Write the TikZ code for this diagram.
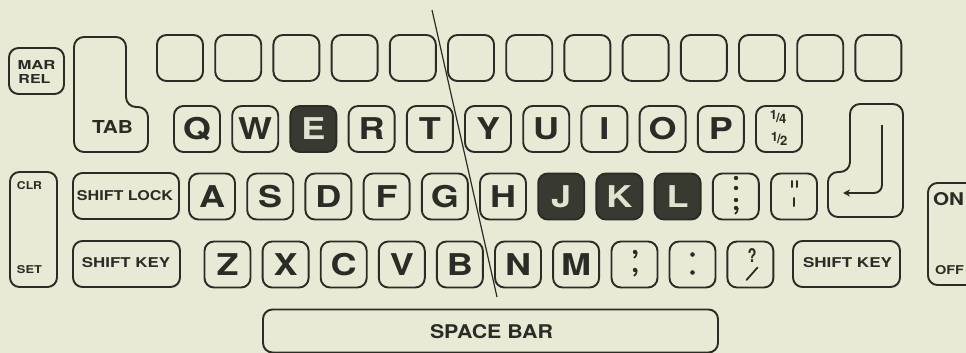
\documentclass[tikz,border=0pt]{standalone}
\usepackage{fontspec}
\usepackage{graphicx}
\setmainfont{TeX Gyre Heros}
\usetikzlibrary{arrows.meta}
\definecolor{bg}{HTML}{E8EAD5}
\definecolor{ink}{HTML}{2B2C26}
\definecolor{darkkey}{HTML}{383A31}
\definecolor{lighttext}{HTML}{E0E3D0}
\newcommand{\kl}[1]{\scalebox{1.2}[1]{#1}}
\newcommand{\fitlbl}[3]{\resizebox{#1pt}{#2pt}{#3}}
\begin{document}
\begin{tikzpicture}[x=1pt,y=-1pt,
  keybox/.style={draw=ink,line width=1.9pt,rounded corners=9.5pt,minimum width=46pt,minimum height=46pt,
    inner sep=0pt,text height=21.5pt,text depth=0pt,font=\fontsize{30}{30}\selectfont\bfseries,text=ink},
  darkbox/.style={keybox,fill=darkkey,text=lighttext},
  widebox/.style={draw=ink,line width=1.9pt,rounded corners=9.5pt,inner sep=0pt},
  lbl/.style={inner sep=0pt,text=ink,font=\bfseries},
  dotfill/.style={fill=ink},
  tickline/.style={draw=ink,line width=2pt,line cap=round}
]
\fill[bg] (0,0) rectangle (966,353);
\useasboundingbox (0,0) rectangle (966,353);
\clip (0,0) rectangle (966,353);

% top row of blank keys
\foreach \i in {0,...,12}{
  \node[keybox] (top\i) at ({180+58.2*\i},58) {};
}

% row 2
\node[keybox]  (kQ) at (197.0,129) {\kl{Q}};
\node[keybox]  (kW) at (255.2,129) {\kl{W}};
\node[darkbox] (kE) at (313.4,129) {\kl{E}};
\node[keybox]  (kR) at (371.6,129) {\kl{R}};
\node[keybox]  (kT) at (429.8,129) {\kl{T}};
\node[keybox]  (kY) at (488.0,129) {\kl{Y}};
\node[keybox]  (kU) at (546.2,129) {\kl{U}};
\node[keybox]  (kI) at (604.4,129) {\kl{I}};
\node[keybox]  (kO) at (662.6,129) {\kl{O}};
\node[keybox]  (kP) at (720.8,129) {\kl{P}};
\node[keybox]  (kfr) at (779.0,129) {};
\node[lbl,font=\fontsize{13}{13}\selectfont\bfseries] (fq) at (778,117) {\raisebox{2.5pt}{1}\kern-0.8pt/\kern-0.8pt\raisebox{-1.5pt}{4}};
\node[lbl,font=\fontsize{13}{13}\selectfont\bfseries] (fh) at (779,138.5) {\raisebox{2.5pt}{1}\kern-0.8pt/\kern-0.8pt\raisebox{-1.5pt}{2}};

% row 3
\node[keybox]  (kA) at (212.0,196.5) {\kl{A}};
\node[keybox]  (kS) at (270.2,196.5) {\kl{S}};
\node[keybox]  (kD) at (328.4,196.5) {\kl{D}};
\node[keybox]  (kF) at (386.6,196.5) {\kl{F}};
\node[keybox]  (kG) at (444.8,196.5) {\kl{G}};
\node[keybox]  (kH) at (503.0,196.5) {\kl{H}};
\node[darkbox] (kJ) at (561.2,196.5) {\kl{J}};
\node[darkbox] (kK) at (619.4,196.5) {\kl{K}};
\node[darkbox] (kL) at (677.6,196.5) {\kl{L}};
\node[keybox]  (ksc) at (735.8,196.5) {};
\node[keybox]  (kqt) at (794.0,196.5) {};
% colon over semicolon
\fill[dotfill] (736,178) circle (2.2);
\fill[dotfill] (736,188) circle (2.2);
\fill[dotfill] (736,200) circle (2.2);
\fill[dotfill] (736,208) circle (2.2);
\draw[ink,line width=1.7pt] (737.9,208) .. controls (737.9,211) and (736.5,213) .. (735,214);
% quote over apostrophe
\draw[tickline] (791.5,181) -- (791.5,187);
\draw[tickline] (796.5,181) -- (796.5,187);
\draw[tickline] (794,198) -- (794,206);

% row 4
\node[keybox]  (kZ) at (227.5,264.5) {\kl{Z}};
\node[keybox]  (kX) at (285.6,264.5) {\kl{X}};
\node[keybox]  (kC) at (343.7,264.5) {\kl{C}};
\node[keybox]  (kV) at (401.8,264.5) {\kl{V}};
\node[keybox]  (kB) at (459.9,264.5) {\kl{B}};
\node[keybox]  (kN) at (518.0,264.5) {\kl{N}};
\node[keybox]  (kM) at (576.1,264.5) {\kl{M}};
\node[keybox]  (kcm) at (634.5,264.5) {};
\node[keybox]  (kcl) at (692.5,264.5) {};
\node[keybox]  (kqm) at (750.4,264.5) {};
% two commas
\foreach \yy in {252,270}{
  \fill[dotfill] (635,\yy) circle (2.2);
  \draw[ink,line width=1.7pt] (636.9,\yy) .. controls (636.9,\yy+3) and (635.5,\yy+5) .. (634,\yy+6);
}
% colon
\fill[dotfill] (692.5,254.5) circle (2.3);
\fill[dotfill] (692.5,272.5) circle (2.3);
% question mark over slash
\node[lbl] (qm) at (752,255) {\fitlbl{9}{14}{?}};
\draw[tickline,line width=1.8pt] (746.5,280) -- (757.5,267.5);

% modifier keys
\node[widebox,minimum width=55pt,minimum height=46pt] (mar) at (36.5,71) {};
\node[lbl] (marA) at (36.5,64.5) {\fitlbl{38}{9}{MAR}};
\node[lbl] (marB) at (34.5,78.5) {\fitlbl{32}{9}{REL}};

\draw[ink,line width=1.9pt,rounded corners=10pt] (74,37) -- (126,37) -- (126,107) -- (148,107) -- (148,152) -- (74,152) -- cycle;
\node[lbl] (tab) at (112.5,126.5) {\fitlbl{41}{13}{TAB}};

\node[widebox,minimum width=47pt,minimum height=115pt] (clr) at (33.5,229.5) {};
\node[lbl] (clrA) at (29.5,186) {\fitlbl{25}{8}{CLR}};
\node[lbl] (clrB) at (29.5,270) {\fitlbl{25}{8}{SET}};

\node[widebox,minimum width=106pt,minimum height=46pt] (slock) at (126,196) {};
\node[lbl] (slockT) at (125,196) {\fitlbl{96}{10}{SHIFT LOCK}};

\node[widebox,minimum width=107pt,minimum height=46pt] (shl) at (126.5,264) {};
\node[lbl] (shlT) at (126,262.5) {\fitlbl{88}{10}{SHIFT KEY}};

\node[widebox,minimum width=107pt,minimum height=46pt] (shr) at (846.5,264) {};
\node[lbl] (shrT) at (847.5,263) {\fitlbl{89}{10}{SHIFT KEY}};

% return key
\draw[ink,line width=1.9pt,rounded corners=10pt] (850,104) -- (903,104) -- (903,217) -- (828,217) -- (828,172) -- (850,172) -- cycle;
\coordinate (rtop) at (882,125);
\coordinate (rend) at (843,193);
\draw[ink,line width=1.9pt,rounded corners=8pt,-{Stealth[length=7pt,width=7pt]}] (rtop) -- (882,193) -- (rend);

% on/off switch
\node[widebox,minimum width=56pt,minimum height=102pt] (onoff) at (956,234) {};
\node[lbl] (onT) at (948.5,199.5) {\fitlbl{31}{13}{ON}};
\node[lbl] (offT) at (949.5,270) {\fitlbl{29}{9}{OFF}};

% space bar
\node[widebox,minimum width=455pt,minimum height=43pt] (space) at (490.5,331) {};
\node[lbl] (spaceT) at (491.5,332) {\fitlbl{123}{14}{SPACE BAR}};

% dividing line
\coordinate (divtop) at (432,10);
\coordinate (divbot) at (497,297);
\draw[ink,line width=1.2pt] (divtop) -- (divbot);
\end{tikzpicture}
\end{document}
